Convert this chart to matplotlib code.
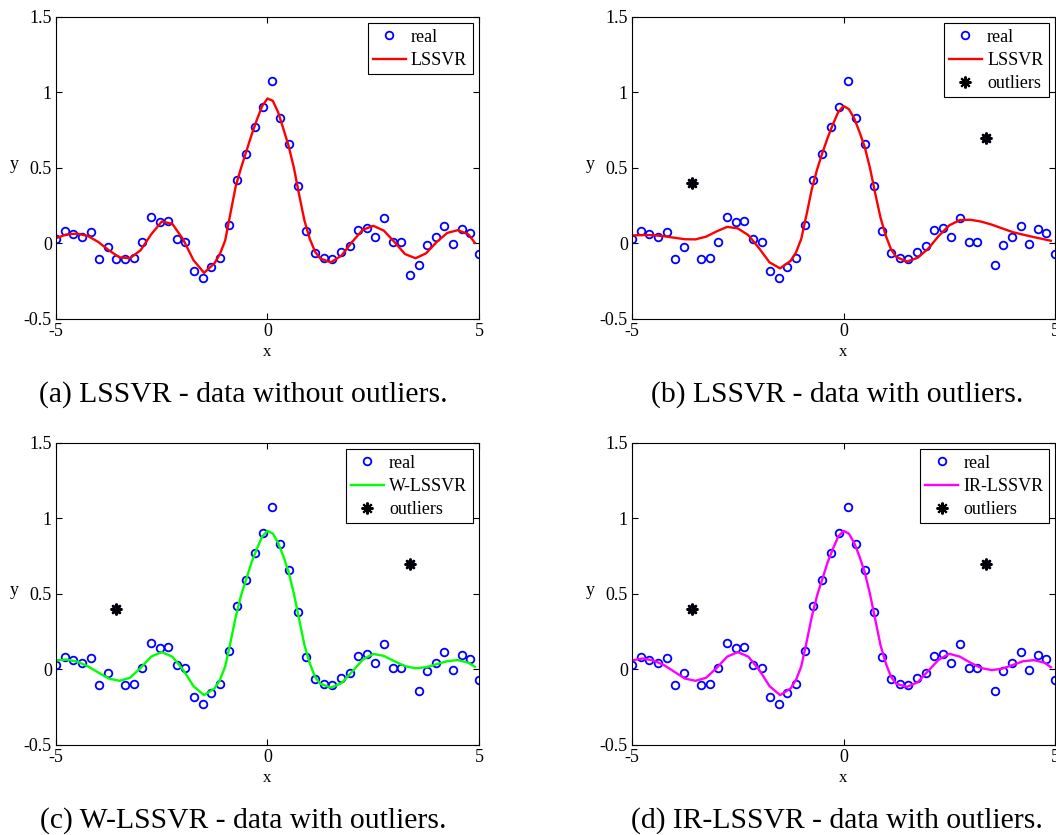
import matplotlib.pyplot as plt
import numpy as np

plt.rcParams['font.family'] = ['Liberation Serif', 'DejaVu Serif']
plt.rcParams['axes.unicode_minus'] = False

# training samples on [-5, 5]
x_real = np.linspace(-5, 5, 50)
y_clean = [0.029, 0.084, 0.060, 0.042, 0.073, -0.100, -0.024, -0.100, -0.100, -0.093,
           0.007, 0.173, 0.142, 0.148, 0.029, 0.007, -0.180, -0.228, -0.153, -0.095,
           0.124, 0.423, 0.593, 0.774, 0.903, 1.073, 0.830, 0.659, 0.380, 0.082,
           -0.066, -0.093, -0.104, -0.058, -0.020, 0.088, 0.100, 0.040, 0.166, 0.013,
           0.007, -0.206, -0.144, -0.009, 0.040, 0.113, -0.004, 0.093, 0.069, -0.069]

# two samples replaced by outliers
outlier_idx = [7, 41]
outlier_y = [0.40, 0.70]

y_dirty = list(y_clean)
for i, v in zip(outlier_idx, outlier_y):
    y_dirty[i] = v
x_out = x_real[outlier_idx]

# regression outputs on the test grid
x_fit = [-5.0, -4.75, -4.5, -4.25, -4.0, -3.75, -3.5, -3.25, -3.0, -2.75, -2.5, -2.25,
         -2.0, -1.75, -1.5, -1.25, -1.125, -1.0, -0.875, -0.75, -0.625, -0.5, -0.375,
         -0.25, -0.125, 0.0, 0.125, 0.25, 0.375, 0.5, 0.625, 0.75, 0.875, 1.0, 1.125,
         1.25, 1.5, 1.75, 2.0, 2.25, 2.5, 2.75, 3.0, 3.25, 3.5, 3.75, 4.0, 4.25, 4.5,
         4.75, 4.9]

lssvr_clean = [0.035, 0.060, 0.065, 0.050, 0.010, -0.045, -0.092, -0.098, -0.045, 0.060,
               0.145, 0.130, 0.030, -0.110, -0.195, -0.130, -0.070, 0.020, 0.200, 0.380,
               0.500, 0.610, 0.720, 0.820, 0.910, 0.960, 0.945, 0.870, 0.760, 0.645,
               0.500, 0.320, 0.150, 0.030, -0.055, -0.100, -0.125, -0.080, 0.010, 0.090,
               0.117, 0.085, 0.010, -0.070, -0.098, -0.065, 0.010, 0.070, 0.088, 0.060,
               0.005]

lssvr_dirty = [0.053, 0.056, 0.055, 0.048, 0.038, 0.028, 0.027, 0.045, 0.080, 0.110,
               0.100, 0.055, -0.030, -0.125, -0.165, -0.115, -0.060, 0.030, 0.190, 0.360,
               0.490, 0.600, 0.700, 0.790, 0.870, 0.910, 0.890, 0.830, 0.740, 0.640,
               0.500, 0.330, 0.170, 0.050, -0.040, -0.090, -0.120, -0.095, -0.035, 0.050,
               0.120, 0.155, 0.157, 0.145, 0.125, 0.100, 0.075, 0.058, 0.042, 0.027,
               0.018]

wlssvr = [0.060, 0.066, 0.052, 0.022, -0.020, -0.060, -0.075, -0.055, 0.010, 0.085,
          0.115, 0.085, 0.000, -0.110, -0.170, -0.125, -0.070, 0.020, 0.180, 0.350,
          0.490, 0.600, 0.710, 0.800, 0.880, 0.918, 0.900, 0.840, 0.750, 0.645,
          0.500, 0.330, 0.160, 0.040, -0.050, -0.095, -0.120, -0.090, -0.015, 0.065,
          0.103, 0.090, 0.055, 0.022, 0.008, 0.015, 0.035, 0.055, 0.062, 0.045,
          0.018]

irlssvr = [0.060, 0.073, 0.060, 0.030, -0.015, -0.060, -0.075, -0.055, 0.010, 0.085,
           0.115, 0.085, 0.000, -0.110, -0.170, -0.125, -0.070, 0.020, 0.180, 0.350,
           0.490, 0.600, 0.710, 0.800, 0.880, 0.918, 0.900, 0.840, 0.750, 0.645,
           0.500, 0.330, 0.160, 0.040, -0.050, -0.095, -0.115, -0.085, -0.010, 0.065,
           0.104, 0.085, 0.045, 0.010, -0.004, 0.005, 0.030, 0.055, 0.062, 0.045,
           0.015]

y_ticks = [-0.5, 0, 0.5, 1, 1.5]
y_tick_labels = ['-0.5', '0', '0.5', '1', '1.5']
x_ticks = [-5, 0, 5]
x_tick_labels = ['-5', '0', '5']

panels = [
    # (axes rect, caption x, y data, fit, fit colour, fit name, show outliers, caption)
    ([0.053, 0.618, 0.4006, 0.3617], 0.230, y_clean, lssvr_clean, '#ff0000', 'LSSVR', False,
     '(a) LSSVR - data without outliers.'),
    ([0.5985, 0.618, 0.4006, 0.3617], 0.793, y_dirty, lssvr_dirty, '#ff0000', 'LSSVR', True,
     '(b) LSSVR - data with outliers.'),
    ([0.053, 0.1078, 0.4006, 0.3617], 0.230, y_dirty, wlssvr, '#00ff00', 'W-LSSVR', True,
     '(c) W-LSSVR - data with outliers.'),
    ([0.5985, 0.1078, 0.4006, 0.3617], 0.793, y_dirty, irlssvr, '#ff00ff', 'IR-LSSVR', True,
     '(d) IR-LSSVR - data with outliers.'),
]

fig = plt.figure(figsize=(10.56, 8.35), dpi=100)

for rect, cx, y_pts, fit, col, name, show_out, caption in panels:
    ax = fig.add_axes(rect)
    ax.plot(x_real, y_pts, 'o', mfc='none', mec='#0000ff', ms=5.5, mew=1.3, label='real')
    ax.plot(x_fit, fit, '-', color=col, lw=1.7, label=name)
    if show_out:
        ax.plot(x_out, outlier_y, ls='none', marker=(8, 2, 0), ms=8.5, mew=1.5,
                color='black', label='outliers')

    ax.set_xlim(-5, 5)
    ax.set_ylim(-0.5, 1.5)
    ax.set_xticks(x_ticks)
    ax.set_xticklabels(x_tick_labels)
    ax.set_yticks(y_ticks)
    ax.set_yticklabels(y_tick_labels)
    ax.tick_params(direction='in', length=4, width=0.8, top=True, right=True,
                   labelsize=13, pad=3)
    for sp in ax.spines.values():
        sp.set_linewidth(0.8)

    ax.set_xlabel('x', fontsize=12, va='center')
    ax.xaxis.set_label_coords(0.5, -0.11)
    ax.set_ylabel('y', fontsize=13, rotation=0, ha='center', va='center')
    ax.yaxis.set_label_coords(-0.099, 0.51)

    leg = ax.legend(loc='upper right', fontsize=13, fancybox=False, framealpha=1,
                    edgecolor='black', borderpad=0.3, handlelength=1.8,
                    handletextpad=0.3, labelspacing=0.34, borderaxespad=0.35)
    leg.get_frame().set_linewidth(0.8)

    fig.text(cx, rect[1] - 0.091, caption, fontsize=21.3, ha='center', va='center')

plt.savefig('out.png', dpi=100)
